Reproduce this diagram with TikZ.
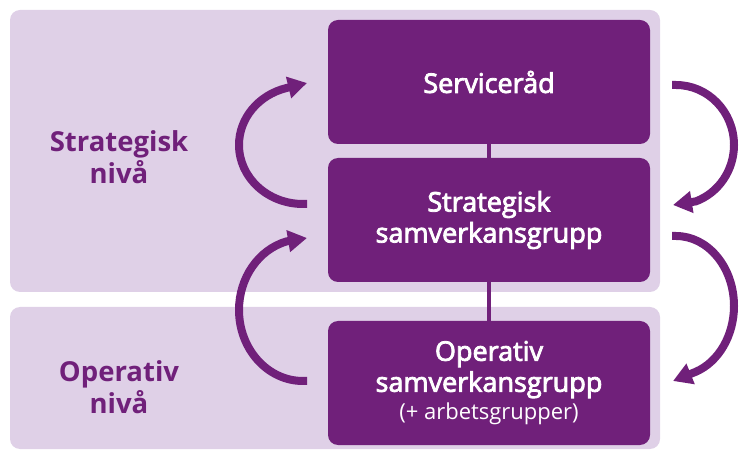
\documentclass[tikz,border=0pt]{standalone}
\usepackage{fontspec}
\setmainfont{Open Sans}
\newfontfamily\sbf{Open Sans}[FakeBold=3]
\usetikzlibrary{arrows.meta}
\definecolor{dp}{RGB}{112,32,122}
\definecolor{lp}{RGB}{223,208,231}
\begin{document}
\begin{tikzpicture}[x=1pt,y=1pt,
  panel/.style={fill=lp, rounded corners=10pt},
  box/.style={fill=dp, rounded corners=10pt, text=white, align=center,
    minimum width=322pt, minimum height=124pt, inner sep=0pt,
    font=\sbf\fontsize{27}{31}\selectfont},
  lvl/.style={text=dp, align=center, font=\bfseries\fontsize{27.5}{32}\selectfont},
  cyc/.style={draw=dp, line width=8pt, -{Triangle[width=21pt,length=19pt]}},
  link/.style={draw=dp, line width=4pt}]
\useasboundingbox (0,0) rectangle (739,450);
\fill[panel] (10,158) rectangle (660,440);
\fill[panel] (10,1) rectangle (660,143);
\node[box] (sr) at (489,368) {Serviceråd};
\node[box] (ss) at (489,230) {Strategisk\\samverkansgrupp};
\node[box] (op) at (489,67) {Operativ\\samverkansgrupp\\[-3pt]{\normalfont\fontsize{22}{24}\selectfont (+ arbetsgrupper)}};
\draw[link] (sr.south) -- (ss.north);
\draw[link] (ss.south) -- (op.north);
\node[lvl] (ls) at (119,293) {Strategisk\\nivå};
\node[lvl] (lo) at (119,63) {Operativ\\nivå};
\coordinate (t1) at (307,246); \coordinate (h1) at (307,367);
\coordinate (t2) at (307,69);  \coordinate (h2) at (307,212);
\coordinate (t3) at (672,365); \coordinate (h3) at (673,245);
\coordinate (t4) at (672,214); \coordinate (h4) at (673,69);
\draw[cyc] (t1) -- ++(-4,0) arc[start angle=270, end angle=105, x radius=64, y radius=59] -- (h1);
\draw[cyc] (t2) -- ++(-4,0) arc[start angle=270, end angle=105, x radius=64, y radius=71] -- (h2);
\draw[cyc] (t3) -- ++(4,0) arc[start angle=90, end angle=-70, x radius=58, y radius=60] -- (h3);
\draw[cyc] (t4) -- ++(4,0) arc[start angle=90, end angle=-70, x radius=58, y radius=70] -- (h4);
\end{tikzpicture}
\end{document}
